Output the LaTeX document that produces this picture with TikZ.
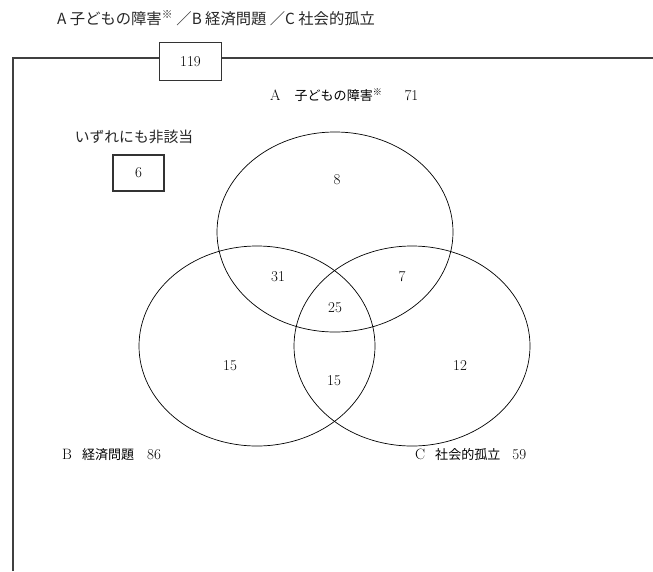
\documentclass[tikz,border=0pt]{standalone}
\usepackage{fontspec}
\newfontfamily\jp{Noto Sans CJK JP}[Scale=0.87]
\usetikzlibrary{shapes,positioning,backgrounds}

\tikzset{
  frameline/.style={draw=black!75, line width=1.4pt},
  countbox/.style={draw=black!80, line width=1.2pt, fill=white, minimum width=62pt, minimum height=38pt, inner sep=0pt},
  setring/.style={draw, ellipse, line width=0.7pt, minimum width=236pt, minimum height=200pt, inner sep=0pt},
  lbl/.style={inner sep=0pt, font=\fontsize{15}{17}\selectfont},
}
\newcommand{\kome}{\textsuperscript{\jp ※}}

\begin{document}
\begin{tikzpicture}[x=1pt, y=-1pt]
  \useasboundingbox (0,0) rectangle (653,571);
  %title
  \node[inner sep=0pt, anchor=west, text=black!85, font=\fontsize{17.6}{19}\selectfont\jp] (title) at (57,18) {A 子どもの障害\kome\ ／B 経済問題 ／C 社会的孤立};
  %frame
  \coordinate (fbot) at (13,571);
  \coordinate (fright) at (653,58);
  \draw[frameline] (fbot) |- (fright);
  \node[countbox, lbl] (total) at (190.5,61.5) {119};
  %none of the three
  \node[lbl, text=black!85, font=\fontsize{17}{19}\selectfont] (nonelbl) at (134,137) {\jp いずれにも非該当};
  \node[countbox, lbl, minimum width=51pt, minimum height=36pt] (nonebox) at (138.5,173) {6};
  %sets
  \node[setring] (setA) at (335,232) {};
  \node[setring] (setB) at (257,346) {};
  \node[setring] (setC) at (412,346) {};
  \node[lbl, anchor=west] (labA) at (270,95) {A\hspace{14pt}{\jp 子どもの障害}\kome\hspace{22pt}71};
  \node[lbl, anchor=west] (labB) at (62,455) {B\hspace{10pt}{\jp 経済問題}\hspace{13pt}86};
  \node[lbl, anchor=west] (labC) at (415,455) {C\hspace{10pt}{\jp 社会的孤立}\hspace{12pt}59};
  %regions
  \node[lbl] (onlyA) at (337,180) {8};
  \node[lbl] (AB) at (278,277) {31};
  \node[lbl] (AC) at (402,277) {7};
  \node[lbl] (ABC) at (335,308) {25};
  \node[lbl] (onlyB) at (230,366) {15};
  \node[lbl] (BC) at (334,381) {15};
  \node[lbl] (onlyC) at (460,366) {12};
\end{tikzpicture}
\end{document}
